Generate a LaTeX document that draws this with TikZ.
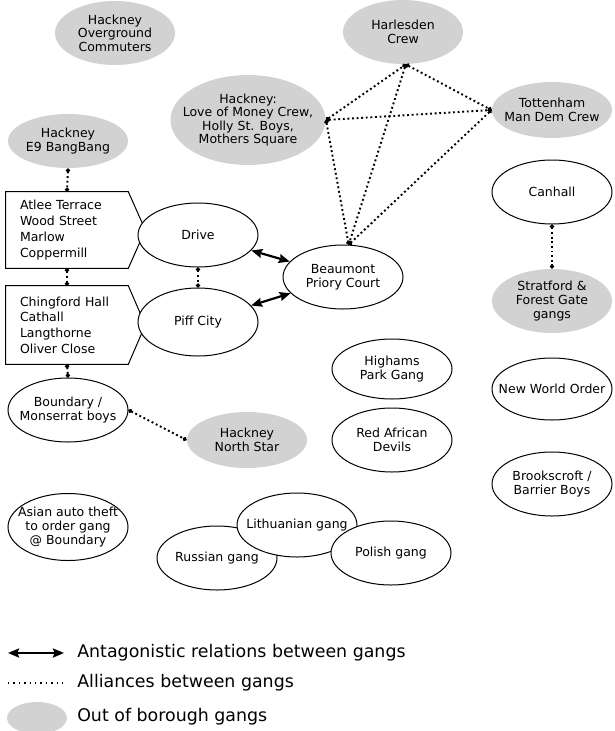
\documentclass[tikz,border=0pt]{standalone}
\usepackage{fontspec}
\setmainfont{DejaVu Sans}
\usepackage{tikz}
\usetikzlibrary{arrows.meta,shapes.geometric}

\begin{document}
\begin{tikzpicture}[x=1pt,y=-1pt,>={Stealth[length=11pt,width=9pt,inset=1.5pt]},auto,semithick]
  \tikzstyle{gang}=[ellipse,draw=black,line width=1pt,fill=white,minimum width=120pt,minimum height=64pt,inner sep=-14pt,align=center,font=\fontsize{12.5}{13.6}\selectfont]
  \tikzstyle{outgang}=[gang,draw=none,fill=gray!35]
  \tikzstyle{estate}=[rectangle,text width=94pt,inner xsep=14pt,inner ysep=0pt,minimum height=76pt,align=left,font=\fontsize{12.5}{15.7}\selectfont]
  \tikzstyle{ally}=[{Circle[length=4pt]}-{Circle[length=4pt]},line width=1.9pt,dash pattern=on 1.9pt off 2.7pt]
  \tikzstyle{enemy}=[<->,line width=2.2pt]
  \tikzstyle{key}=[anchor=west,inner sep=0pt,font=\fontsize{17.4}{20}\selectfont]

  \useasboundingbox (0,0) rectangle (614,731);

  % out of borough gangs
  \node[outgang] (hoc)        at (115,33)  {Hackney\\Overground\\Commuters};
  \node[outgang,minimum height=54pt] (e9) at (68,141) {Hackney\\E9 BangBang};
  \node[outgang,minimum width=155pt,minimum height=90pt] (money) at (248,120) {Hackney:\\Love of Money Crew,\\Holly St. Boys,\\Mothers Square};
  \node[outgang] (harlesden)  at (403,32)  {Harlesden\\Crew};
  \node[outgang,minimum height=56pt] (tottenham) at (552,110) {Tottenham\\Man Dem Crew};
  \node[outgang] (stratford)  at (552,301) {Stratford \&\\Forest Gate\\gangs};
  \node[outgang,minimum height=56pt] (northstar) at (247,440) {Hackney\\North Star};

  % estates
  \node[estate] (atlee) at (67,230) {Atlee Terrace\\Wood Street\\Marlow\\Coppermill};
  \node[estate,minimum height=78pt] (chingford) at (67,325) {Chingford Hall\\Cathall\\Langthorne\\Oliver Close};
  \draw[line width=1pt] (atlee.north west) -- (atlee.north east) -- ([xshift=17pt]atlee.east)
    -- (atlee.south east) -- (atlee.south west) -- cycle;
  \draw[line width=1pt] (chingford.north west) -- (chingford.north east) -- ([xshift=17pt]chingford.east)
    -- (chingford.south east) -- (chingford.south west) -- cycle;

  % local gangs
  \node[gang] (drive)      at (198,235) {Drive};
  \node[gang,minimum height=68pt] (piff) at (198,322) {Piff City};
  \node[gang] (beaumont)   at (343,277) {Beaumont\\Priory Court};
  \node[gang] (canhall)    at (552,192) {Canhall};
  \node[gang] (boundary)   at (68,410)  {Boundary /\\Monserrat boys};
  \node[gang,minimum height=60pt] (highams) at (392,369) {Highams\\Park Gang};
  \node[gang] (redafrican) at (392,440) {Red African\\Devils};
  \node[gang,minimum height=62pt] (neworder) at (552,389) {New World Order};
  \node[gang] (brookscroft) at (552,484) {Brookscroft /\\Barrier Boys};
  \node[gang,minimum height=67pt] (asian) at (68,527) {Asian auto theft\\to order gang\\@ Boundary};
  \node[gang] (russian)    at (217,558) {Russian gang};
  \node[gang] (lithuanian) at (297,525) {Lithuanian gang};
  \node[gang] (polish)     at (391,553) {Polish gang};

  \path (e9.south)        edge[ally] (atlee.north)
        (atlee.south)     edge[ally] (chingford.north)
        (chingford.south) edge[ally] (boundary.north)
        (drive.south)     edge[ally] (piff.north)
        (boundary.east)   edge[ally] (northstar.west)
        (canhall.south)   edge[ally] (stratford.north)
        (money.east)      edge[ally] (harlesden.-85)
        (money.east)      edge[ally] (tottenham.west)
        (money.east)      edge[ally] (beaumont.80)
        (harlesden.-85)   edge[ally] (beaumont.80)
        (harlesden.-85)   edge[ally] (tottenham.west)
        (tottenham.west)  edge[ally] (beaumont.80);

  \path (drive) edge[enemy] (beaumont)
        (piff)  edge[enemy] (beaumont);

  % key
  \coordinate (k1) at (8,653);
  \coordinate (k2) at (64,653);
  \coordinate (k3) at (8,683);
  \coordinate (k4) at (64,683);
  \draw[enemy] (k1) -- (k2);
  \draw[line width=1.4pt,dash pattern=on 1.4pt off 4pt] (k3) -- (k4);
  \node[outgang,minimum width=60pt,minimum height=32pt] (keyout) at (37,718) {};
  \node[key] (keyenemy) at (77,653) {Antagonistic relations between gangs};
  \node[key] (keyally)  at (77,683) {Alliances between gangs};
  \node[key] (keyoutt)  at (77,717) {Out of borough gangs};
\end{tikzpicture}
\end{document}
